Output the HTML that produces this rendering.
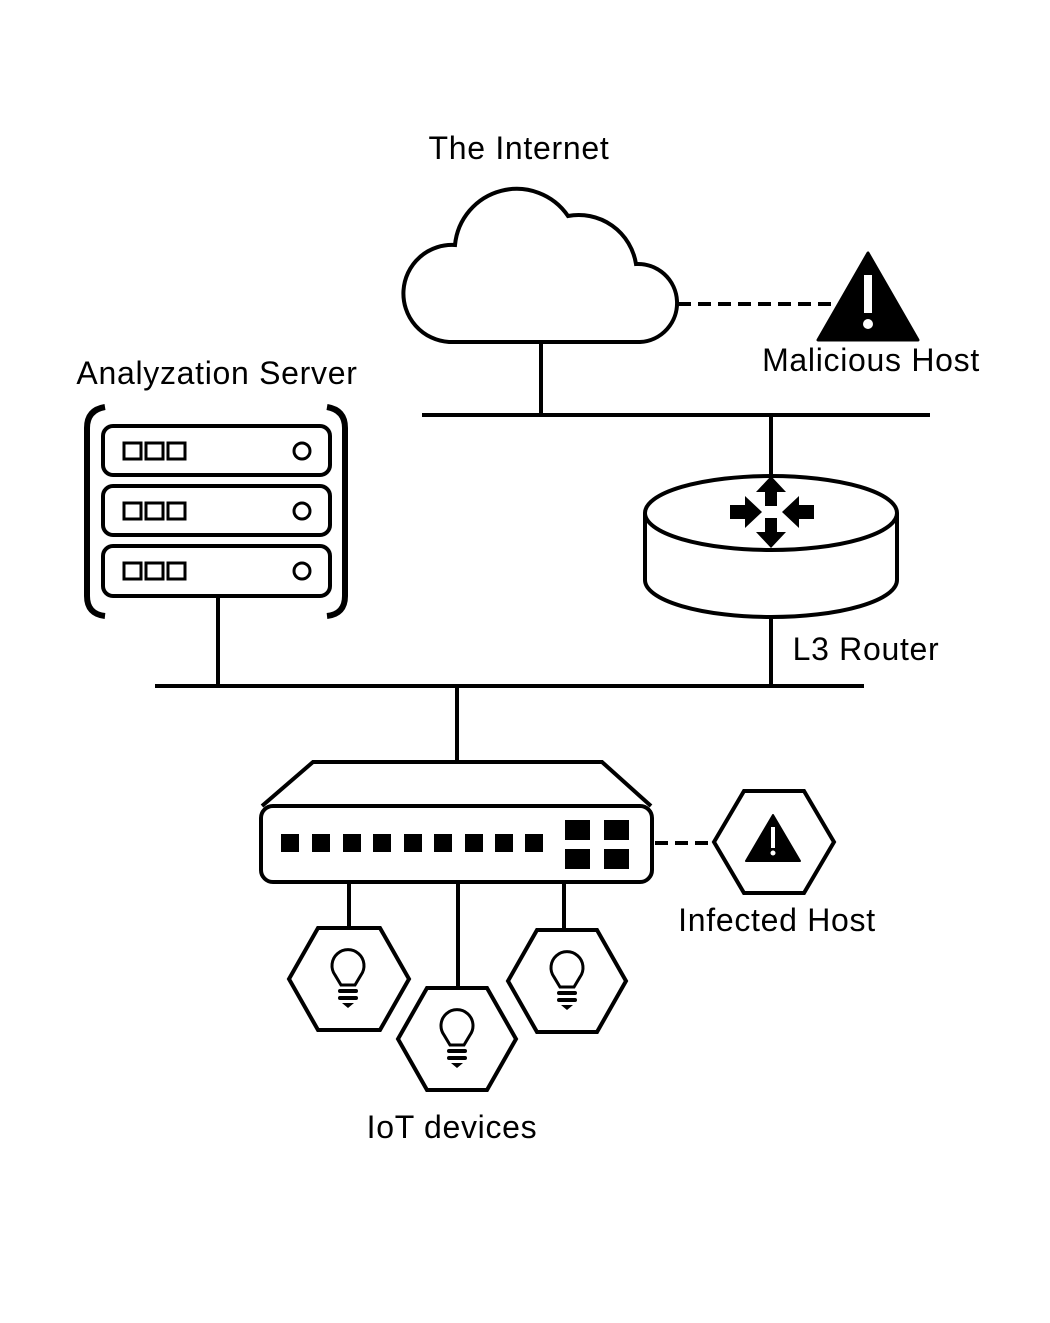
<!DOCTYPE html>
<html><head><meta charset="utf-8"><style>
html,body{margin:0;padding:0;background:#fff}
svg{display:block}
text{font-family:"Liberation Sans",sans-serif;font-size:32px;letter-spacing:0.7px;fill:#000}
</style></head><body>
<svg width="1050" height="1323" viewBox="0 0 1050 1323" xmlns="http://www.w3.org/2000/svg">
<g fill="none" stroke="#000" stroke-width="4">
<!-- cloud -->
<path d="M449,342 A48.5,48.5 0 0 1 455,245 A62,62 0 0 1 568,216 A58,58 0 0 1 636,264 A39,39 0 0 1 640,342 Z" fill="#fff"/>
<line x1="541" y1="342" x2="541" y2="415"/>
<line x1="678" y1="304" x2="835" y2="304" stroke-dasharray="13,7"/>
<line x1="422" y1="415" x2="930" y2="415"/>
<!-- router -->
<line x1="771" y1="415" x2="771" y2="478"/>
<path d="M645,513 L645,580 A126,37 0 0 0 897,580 L897,513" fill="#fff"/>
<ellipse cx="771" cy="513" rx="126" ry="37" fill="#fff"/>
<line x1="771" y1="617" x2="771" y2="686"/>
<!-- server -->
<path d="M105,407 Q87,410 87,428 L87,596 Q87,614 105,616" stroke-width="6"/>
<path d="M327,407 Q345,410 345,428 L345,596 Q345,614 327,616" stroke-width="6"/>
<rect x="103" y="426" width="227" height="49" rx="10"/>
<rect x="103" y="486" width="227" height="49" rx="10"/>
<rect x="103" y="546" width="227" height="50" rx="10"/>
<g stroke-width="3">
<rect x="124" y="443" width="17" height="16"/><rect x="146" y="443" width="17" height="16"/><rect x="168" y="443" width="17" height="16"/>
<rect x="124" y="503" width="17" height="16"/><rect x="146" y="503" width="17" height="16"/><rect x="168" y="503" width="17" height="16"/>
<rect x="124" y="563" width="17" height="16"/><rect x="146" y="563" width="17" height="16"/><rect x="168" y="563" width="17" height="16"/>
<circle cx="302" cy="451" r="8"/><circle cx="302" cy="511" r="8"/><circle cx="302" cy="571" r="8"/>
</g>
<line x1="218" y1="597" x2="218" y2="686"/>
<line x1="155" y1="686" x2="864" y2="686"/>
<line x1="457" y1="686" x2="457" y2="762"/>
<!-- switch -->
<path d="M262,806 L313,762 L602,762 L651,806"/>
<rect x="261" y="806" width="391" height="76" rx="12"/>
<line x1="655" y1="843" x2="714" y2="843" stroke-dasharray="13,7"/>
<polygon points="714,842 744,791 804,791 834,842 804,893 744,893"/>
<line x1="349" y1="882" x2="349" y2="928"/>
<line x1="458" y1="882" x2="458" y2="988"/>
<line x1="564" y1="882" x2="564" y2="930"/>
<polygon points="289,979 318,928 380,928 409,979 380,1030 318,1030"/>
<polygon points="398,1039 427,988 487,988 516,1039 487,1090 427,1090"/>
<polygon points="508,981 537,930 597,930 626,981 597,1032 537,1032"/>
<g stroke-width="3">
<path d="M341,985 L335,975 A16,16 0 1 1 361,975 L355,985 Z"/>
<path d="M450,1045 L444,1035 A16,16 0 1 1 470,1035 L464,1045 Z"/>
<path d="M560,987 L554,977 A16,16 0 1 1 580,977 L574,987 Z"/>
</g>
</g>
<g fill="#000">
<!-- malicious triangle -->
<path d="M868,253 L818,340 L918,340 Z" stroke="#000" stroke-width="3" stroke-linejoin="round"/>
<rect x="864" y="275" width="8" height="38" fill="#fff"/>
<circle cx="868" cy="324" r="5" fill="#fff"/>
<!-- router arrows -->
<polygon points="771,476 756,492 765,492 765,506 777,506 777,492 786,492"/>
<polygon points="771,548 756,532 765,532 765,518 777,518 777,532 786,532"/>
<polygon points="730,505 745,505 745,496 762,512 745,528 745,519 730,519"/>
<polygon points="814,505 799,505 799,496 782,512 799,528 799,519 814,519"/>
<!-- switch ports -->
<rect x="281" y="834" width="18" height="18"/><rect x="312" y="834" width="18" height="18"/><rect x="343" y="834" width="18" height="18"/>
<rect x="373" y="834" width="18" height="18"/><rect x="404" y="834" width="18" height="18"/><rect x="434" y="834" width="18" height="18"/>
<rect x="465" y="834" width="18" height="18"/><rect x="495" y="834" width="18" height="18"/><rect x="525" y="834" width="18" height="18"/>
<rect x="565" y="820" width="25" height="20"/><rect x="604" y="820" width="25" height="20"/>
<rect x="565" y="849" width="25" height="20"/><rect x="604" y="849" width="25" height="20"/>
<!-- infected triangle -->
<path d="M773,815 L746,861 L800,861 Z" stroke="#000" stroke-width="2" stroke-linejoin="round"/>
<rect x="771" y="827" width="4" height="21" fill="#fff"/>
<circle cx="773" cy="853" r="2.5" fill="#fff"/>
<!-- bulb bases -->
<rect x="338" y="989" width="20" height="4" rx="2"/><rect x="338" y="996" width="20" height="4" rx="2"/><path d="M342,1003 L354,1003 L348,1008 Z"/>
<rect x="447" y="1049" width="20" height="4" rx="2"/><rect x="447" y="1056" width="20" height="4" rx="2"/><path d="M451,1063 L463,1063 L457,1068 Z"/>
<rect x="557" y="991" width="20" height="4" rx="2"/><rect x="557" y="998" width="20" height="4" rx="2"/><path d="M561,1005 L573,1005 L567,1010 Z"/>
</g>
<text x="519" y="159" text-anchor="middle">The Internet</text>
<text x="871" y="371" text-anchor="middle">Malicious Host</text>
<text x="217" y="384" text-anchor="middle">Analyzation Server</text>
<text x="866" y="660" text-anchor="middle">L3 Router</text>
<text x="777" y="931" text-anchor="middle">Infected Host</text>
<text x="452" y="1138" text-anchor="middle">IoT devices</text>
</svg>
</body></html>
